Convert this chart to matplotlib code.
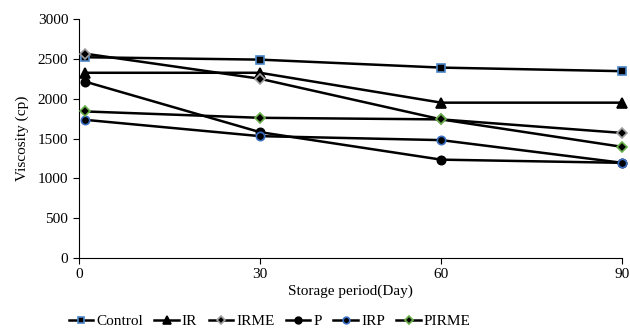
import matplotlib.pyplot as plt

plt.rcParams['font.family'] = ['Liberation Serif', 'DejaVu Serif']

days = [1, 30, 60, 90]
control = [2520, 2490, 2390, 2345]
ir = [2325, 2325, 1950, 1950]
irme = [2565, 2250, 1740, 1570]
p = [2215, 1580, 1235, 1195]
irp = [1735, 1530, 1480, 1195]
pirme = [1840, 1760, 1740, 1395]

series = [
    ("Control", control, "s", "black", "#4a86c8", 6),
    ("IR", ir, "^", "black", "black", 7),
    ("IRME", irme, "D", "black", "#a0a0a0", 5.5),
    ("P", p, "o", "black", "black", 6),
    ("IRP", irp, "o", "black", "#3a6fc4", 6),
    ("PIRME", pirme, "D", "black", "#6ab04c", 5.5),
]

fig = plt.figure(figsize=(6.3, 3.33), dpi=100)
ax = fig.add_axes([0.125, 0.225, 0.863, 0.718])

for name, vals, mk, fc, ec, ms in series:
    ax.plot(days, vals, color="black", lw=1.8, marker=mk, markerfacecolor=fc,
            markeredgecolor=ec, markeredgewidth=1.2, markersize=ms,
            label=name, clip_on=False, zorder=3)

ax.set_xlim(0, 90)
ax.set_ylim(0, 3000)
ax.set_xticks([0, 30, 60, 90])
ax.set_yticks(range(0, 3001, 500))
ax.spines['top'].set_visible(False)
ax.spines['right'].set_visible(False)
ax.tick_params(direction='out', length=4, labelsize=11)
ax.set_xlabel("Storage period(Day)", fontsize=11, labelpad=2)
ax.set_ylabel("Viscosity (cp)", fontsize=11, labelpad=6)

fig.legend(loc='center', bbox_to_anchor=(0.428, 0.036), ncol=6,
           frameon=False, fontsize=11, handlelength=1.6, columnspacing=0.75,
           handletextpad=0.2, markerscale=0.8)

plt.savefig("out.png", dpi=100)
